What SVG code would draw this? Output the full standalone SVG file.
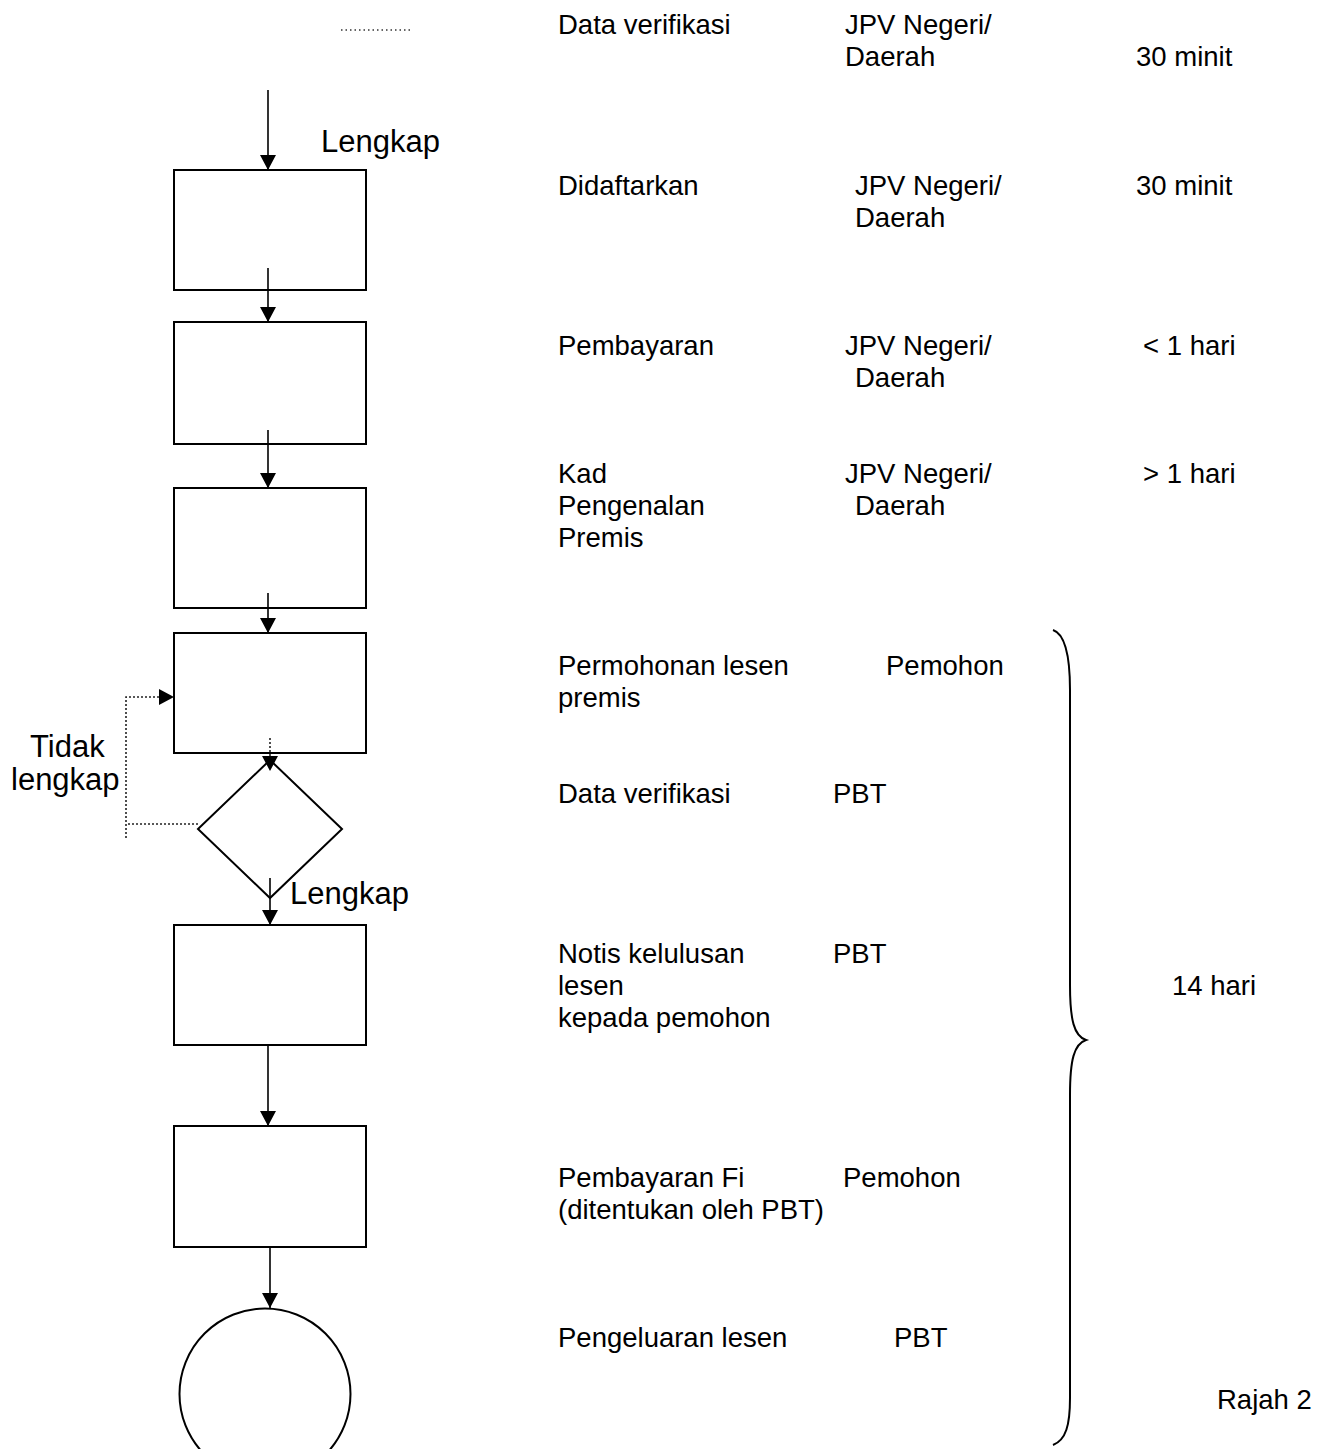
<svg xmlns="http://www.w3.org/2000/svg" width="1332" height="1449" viewBox="0 0 1332 1449">
<style>
.box{fill:none;stroke:#000;stroke-width:2}
.ln{fill:none;stroke:#000;stroke-width:1.6}
.dot{fill:none;stroke:#222;stroke-width:1.6;stroke-dasharray:2 2}
text{font-family:"Liberation Sans",Arial,sans-serif;font-size:27.5px;fill:#000}
.big{font-size:31px}
</style>
<defs>
<marker id="ah" markerUnits="userSpaceOnUse" markerWidth="16" markerHeight="16" refX="15" refY="8" orient="auto">
<path d="M0,0 L15,8 L0,16 Z" fill="#000"/>
</marker>
</defs>
<rect width="1332" height="1449" fill="#fff"/>
<g id="nodes">
<g id="box1"><rect class="box" x="174" y="170" width="192" height="120"/></g>
<g id="box2"><rect class="box" x="174" y="322" width="192" height="122"/></g>
<g id="box3"><rect class="box" x="174" y="488" width="192" height="120"/></g>
<g id="box4"><rect class="box" x="174" y="633" width="192" height="120"/></g>
<g id="decision"><path class="box" d="M270,760 L342,829 L270,898 L198,829 Z"/></g>
<g id="box5"><rect class="box" x="174" y="925" width="192" height="120"/></g>
<g id="box6"><rect class="box" x="174" y="1126" width="192" height="121"/></g>
<g id="end"><circle class="box" cx="265" cy="1394" r="85.5"/></g>
</g>
<g id="connectors">
<line x1="341" y1="30" x2="411" y2="30" stroke="#333" stroke-width="1.5" stroke-dasharray="1.5 3"/>
<line class="ln" x1="268" y1="90" x2="268" y2="170" marker-end="url(#ah)"/>
<line class="ln" x1="268" y1="268" x2="268" y2="322" marker-end="url(#ah)"/>
<line class="ln" x1="268" y1="430" x2="268" y2="488" marker-end="url(#ah)"/>
<line class="ln" x1="268" y1="593" x2="268" y2="633" marker-end="url(#ah)"/>
<line class="dot" x1="270" y1="738" x2="270" y2="757"/>
<path d="M262,756 L278,756 L270,771 Z" fill="#000"/>
<line class="ln" x1="270" y1="878" x2="270" y2="925" marker-end="url(#ah)"/>
<line class="ln" x1="268" y1="1045" x2="268" y2="1126" marker-end="url(#ah)"/>
<line class="ln" x1="270" y1="1247" x2="270" y2="1308" marker-end="url(#ah)"/>
<path class="dot" d="M198,824 L126,824 M126,838 L126,697 L160,697"/>
<path d="M159,689 L174,697 L159,705 Z" fill="#000"/>
<path d="M1053,630 C1065,634 1070,655 1070,690 L1070,985 C1070,1020 1074,1036 1086,1040 C1074,1044 1070,1060 1070,1095 L1070,1398 C1070,1425 1066,1440 1053,1445" fill="none" stroke="#000" stroke-width="2"/>
</g>
<g id="labels">
<text class="big" x="321" y="152">Lengkap</text>
<text class="big" x="290" y="904">Lengkap</text>
<text class="big" x="30" y="757">Tidak</text>
<text class="big" x="11" y="790">lengkap</text>

<text x="558" y="34">Data verifikasi</text>
<text x="845" y="34">JPV Negeri/</text>
<text x="845" y="66">Daerah</text>
<text x="1136" y="66">30 minit</text>

<text x="558" y="195">Didaftarkan</text>
<text x="855" y="195">JPV Negeri/</text>
<text x="855" y="227">Daerah</text>
<text x="1136" y="195">30 minit</text>

<text x="558" y="355">Pembayaran</text>
<text x="845" y="355">JPV Negeri/</text>
<text x="855" y="387">Daerah</text>
<text x="1143" y="355">&lt; 1 hari</text>

<text x="558" y="483">Kad</text>
<text x="558" y="515">Pengenalan</text>
<text x="558" y="547">Premis</text>
<text x="845" y="483">JPV Negeri/</text>
<text x="855" y="515">Daerah</text>
<text x="1143" y="483">&gt; 1 hari</text>

<text x="558" y="675">Permohonan lesen</text>
<text x="558" y="707">premis</text>
<text x="886" y="675">Pemohon</text>

<text x="558" y="803">Data verifikasi</text>
<text x="833" y="803">PBT</text>

<text x="558" y="963">Notis kelulusan</text>
<text x="558" y="995">lesen</text>
<text x="558" y="1027">kepada pemohon</text>
<text x="833" y="963">PBT</text>
<text x="1172" y="995">14 hari</text>

<text x="558" y="1187">Pembayaran Fi</text>
<text x="558" y="1219">(ditentukan oleh PBT)</text>
<text x="843" y="1187">Pemohon</text>

<text x="558" y="1347">Pengeluaran lesen</text>
<text x="894" y="1347">PBT</text>

<text x="1217" y="1409">Rajah 2</text>
</g>
</svg>
